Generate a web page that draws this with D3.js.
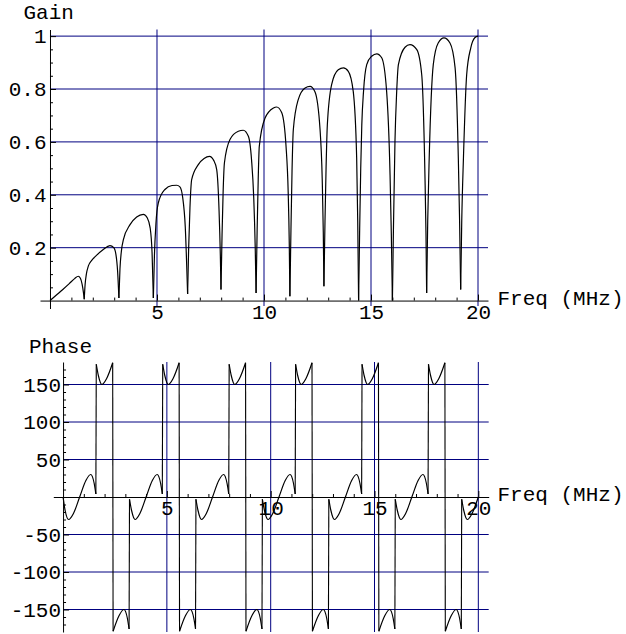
<!DOCTYPE html>
<html>
<head>
<meta charset="utf-8">
<script src="https://cdn.jsdelivr.net/npm/d3@7"></script>
<style>
    body { margin: 0; background: #fff; }
    svg text { font-family: "Liberation Mono", "Courier New", monospace; font-size: 21px; fill: #000; }
</style>
</head>
<body>
<svg id="chart" width="626" height="634"></svg>
<script>
// values: [freq MHz, gain]
const GAIN_POINTS = [
    [0, 0], [0.3, 0.021], [0.6, 0.042], [0.9, 0.064], [1.15, 0.083], [1.32, 0.092], [1.42, 0.084], [1.5, 0.062], [1.56, 0.032], [1.6, 0.005],
    [1.64, 0.06], [1.7, 0.1], [1.79, 0.13], [1.95, 0.152], [2.1, 0.165], [2.49, 0.193], [2.8, 0.208], [2.98, 0.2], [3.08, 0.175], [3.16, 0.11], [3.22, 0.01],
    [3.27, 0.12], [3.34, 0.19], [3.43, 0.23], [3.74, 0.287], [4.05, 0.316], [4.36, 0.326], [4.55, 0.312], [4.68, 0.275], [4.77, 0.18], [4.83, 0.01],
    [4.88, 0.17], [4.95, 0.29], [5.06, 0.369], [5.37, 0.42], [5.7, 0.435], [5.92, 0.436], [6.07, 0.43], [6.2, 0.39], [6.32, 0.28], [6.43, 0.025],
    [6.48, 0.2], [6.54, 0.35], [6.62, 0.457], [6.93, 0.514], [7.2, 0.537], [7.45, 0.545], [7.65, 0.53], [7.79, 0.495], [7.9, 0.34], [7.96, 0.17], [7.99, 0.042],
    [8.04, 0.25], [8.09, 0.41], [8.15, 0.52], [8.41, 0.609], [8.8, 0.64], [9.03, 0.644], [9.27, 0.621], [9.42, 0.53], [9.52, 0.39], [9.59, 0.2], [9.63, 0.029],
    [9.68, 0.27], [9.73, 0.46], [9.78, 0.583], [10.05, 0.69], [10.44, 0.728], [10.59, 0.732], [10.83, 0.71], [11.03, 0.583], [11.13, 0.41], [11.18, 0.22], [11.21, 0.016],
    [11.26, 0.27], [11.31, 0.49], [11.37, 0.646], [11.6, 0.76], [11.92, 0.804], [12.15, 0.81], [12.38, 0.79], [12.62, 0.646], [12.72, 0.46], [12.77, 0.26], [12.8, 0.054],
    [12.85, 0.3], [12.9, 0.5], [12.96, 0.665], [13.16, 0.817], [13.47, 0.873], [13.71, 0.88], [13.94, 0.867], [14.17, 0.791], [14.33, 0.54], [14.38, 0.3], [14.42, 0],
    [14.47, 0.27], [14.52, 0.5], [14.57, 0.665], [14.65, 0.79], [14.8, 0.892], [15.03, 0.924], [15.27, 0.933], [15.5, 0.918], [15.73, 0.791], [15.89, 0.476], [15.95, 0.25], [16.0, 0],
    [16.05, 0.28], [16.12, 0.602], [16.2, 0.79], [16.28, 0.892], [16.59, 0.958], [16.82, 0.968], [17.14, 0.949], [17.37, 0.854], [17.52, 0.476], [17.57, 0.25], [17.6, 0.029],
    [17.65, 0.3], [17.72, 0.54], [17.91, 0.892], [18.14, 0.974], [18.41, 0.993], [18.69, 0.974], [18.93, 0.88], [19.08, 0.54], [19.14, 0.3], [19.19, 0.042],
    [19.24, 0.3], [19.32, 0.54], [19.47, 0.854], [19.66, 0.955], [19.86, 0.995], [20, 1.0]
];

// [freq MHz, phase deg]
const PHASE_POINTS = [
    [0, 0], [0.1, -18], [0.27, -30], [0.5, -22], [0.8, 0], [1.1, 22], [1.33, 30], [1.5, 18], [1.58, 4],
    [1.6, 177], [1.7, 162], [1.87, 150], [2.1, 158], [2.39, 179], [2.41, -179], [2.7, -158], [2.93, -150], [3.1, -162], [3.18, -176],
    [3.2, -3], [3.3, -18], [3.47, -30], [3.7, -22], [4.0, 0], [4.3, 22], [4.53, 30], [4.7, 18], [4.78, 4],
    [4.8, 177], [4.9, 162], [5.07, 150], [5.3, 158], [5.59, 179], [5.61, -179], [5.9, -158], [6.13, -150], [6.3, -162], [6.38, -176],
    [6.4, -3], [6.5, -18], [6.67, -30], [6.9, -22], [7.2, 0], [7.5, 22], [7.73, 30], [7.9, 18], [7.98, 4],
    [8.0, 177], [8.1, 162], [8.27, 150], [8.5, 158], [8.79, 179], [8.81, -179], [9.1, -158], [9.33, -150], [9.5, -162], [9.58, -176],
    [9.6, -3], [9.7, -18], [9.87, -30], [10.1, -22], [10.4, 0], [10.7, 22], [10.93, 30], [11.1, 18], [11.18, 4],
    [11.2, 177], [11.3, 162], [11.47, 150], [11.7, 158], [11.99, 179], [12.01, -179], [12.3, -158], [12.53, -150], [12.7, -162], [12.78, -176],
    [12.8, -3], [12.9, -18], [13.07, -30], [13.3, -22], [13.6, 0], [13.9, 22], [14.13, 30], [14.3, 18], [14.38, 4],
    [14.4, 177], [14.5, 162], [14.67, 150], [14.9, 158], [15.19, 179], [15.21, -179], [15.5, -158], [15.73, -150], [15.9, -162], [15.98, -176],
    [16.0, -3], [16.1, -18], [16.27, -30], [16.5, -22], [16.8, 0], [17.1, 22], [17.33, 30], [17.5, 18], [17.58, 4],
    [17.6, 177], [17.7, 162], [17.87, 150], [18.1, 158], [18.39, 179], [18.41, -179], [18.7, -158], [18.93, -150], [19.1, -162], [19.18, -176],
    [19.2, -3], [19.3, -18], [19.47, -30], [19.7, -22], [20.0, 0]
];

const FREQ_TICKS = [5, 10, 15, 20];
const GAIN_TICKS = [0.2, 0.4, 0.6, 0.8, 1];
const PHASE_TICKS = [-150, -100, -50, 50, 100, 150];

const GRID_COLOR = "#000080";

const svg = d3.select("#chart");

// split gain curve at the notches so each lobe keeps a sharp cusp
function splitAtNulls(pts) {
    let lobes = [], cur = [pts[0]];
    for (let i = 1; i < pts.length; i++) {
        cur.push(pts[i]);
        if (i < pts.length - 1 && pts[i][1] < pts[i-1][1] && pts[i][1] < pts[i+1][1]) {
            lobes.push(cur);
            cur = [pts[i]];
        }
    }
    lobes.push(cur);
    return lobes;
}

// split phase at wrap-arounds
function splitAtJumps(pts) {
    let pieces = [], cur = [pts[0]];
    for (let i = 1; i < pts.length; i++) {
        if (Math.abs(pts[i][1] - pts[i-1][1]) > 90) {
            pieces.push(cur);
            cur = [];
        }
        cur.push(pts[i]);
    }
    pieces.push(cur);
    return pieces;
}

function drawPanel(cfg) {
    let g = svg.append("g");
    let x = d3.scaleLinear().domain(cfg.xDomain).range(cfg.xRange);
    let y = d3.scaleLinear().domain(cfg.yDomain).range(cfg.yRange);
    let id = cfg.id;

    g.append("clipPath").attr("id", "clip-" + id)
        .append("rect")
        .attr("x", cfg.xRange[0]).attr("y", cfg.yRange[1])
        .attr("width", cfg.xRange[1] - cfg.xRange[0])
        .attr("height", cfg.yRange[0] - cfg.yRange[1]);

    // grid lines
    g.append("g").selectAll("line")
        .data(cfg.yTicks)
        .join("line")
        .attr("x1", x(0)).attr("x2", cfg.xRange[1])
        .attr("y1", d => y(d)).attr("y2", d => y(d))
        .attr("stroke", GRID_COLOR).attr("stroke-width", 1);

    g.append("g").selectAll("line")
        .data(FREQ_TICKS)
        .join("line")
        .attr("x1", d => x(d)).attr("x2", d => x(d))
        .attr("y1", cfg.yRange[1]).attr("y2", cfg.gridBottom)
        .attr("stroke", GRID_COLOR).attr("stroke-width", 1);

    // axes, ticks pointing inward like Mathematica
    let xAxis = d3.axisBottom(x)
        .tickValues(FREQ_TICKS)
        .tickSizeInner(-6).tickSizeOuter(0)
        .tickPadding(3.2)
        .tickFormat(d => String(d));
    let xMinor = d3.axisBottom(x)
        .tickValues(d3.range(1, 20).filter(d => d % 5 !== 0))
        .tickSizeInner(-3).tickSizeOuter(0)
        .tickFormat("");
    let yAxis = d3.axisLeft(y)
        .tickValues(cfg.yTicks)
        .tickSizeInner(-6).tickSizeOuter(0)
        .tickPadding(cfg.yPad)
        .tickFormat(cfg.yFormat);
    let yMinor = d3.axisLeft(y)
        .tickValues(cfg.yMinor)
        .tickSizeInner(-3).tickSizeOuter(0)
        .tickFormat("");

    let ax = g.append("g").attr("transform", `translate(0,${y(0)})`);
    ax.call(xAxis);
    ax.append("g").call(xMinor).select(".domain").remove();

    let ay = g.append("g").attr("transform", `translate(${x(0)},0)`);
    ay.call(yAxis);
    ay.append("g").call(yMinor).select(".domain").remove();

    g.selectAll(".tick text").attr("font-family", null).attr("font-size", null);
    g.selectAll("g").attr("font-family", null).attr("font-size", null);

    // curve
    let line = d3.line()
        .x(d => x(d[0]))
        .y(d => y(d[1]))
        .curve(d3.curveMonotoneX);
    let plot = g.append("g").attr("clip-path", `url(#clip-${id})`);
    plot.selectAll("path.piece")
        .data(cfg.pieces)
        .join("path")
        .attr("class", "piece")
        .attr("d", line)
        .attr("fill", "none")
        .attr("stroke", "#000")
        .attr("stroke-width", 1.2);

    if (cfg.connectors) {
        plot.selectAll("line.jump")
            .data(cfg.connectors)
            .join("line")
            .attr("class", "jump")
            .attr("x1", d => x(d[0][0])).attr("y1", d => y(d[0][1]))
            .attr("x2", d => x(d[1][0])).attr("y2", d => y(d[1][1]))
            .attr("stroke", "#000")
            .attr("stroke-width", 1.1);
    }

    // titles
    g.append("text").attr("x", cfg.titleX).attr("y", cfg.titleY).text(cfg.title);
    g.append("text").attr("x", 497.5).attr("y", y(0) + 4).text("Freq (MHz)");
}

let gainLobes = splitAtNulls(GAIN_POINTS);
drawPanel({
    id: "gain",
    xDomain: [-0.467, 20.467], xRange: [40, 488],
    yDomain: [-0.03, 1.025], yRange: [308.5, 29.5],
    gridBottom: 306,
    yTicks: GAIN_TICKS,
    yMinor: d3.range(1, 20).map(i => i * 0.05).filter((d, i) => (i + 1) % 4 !== 0),
    yFormat: d3.format("~g"),
    yPad: 3.5,
    pieces: gainLobes,
    title: "Gain", titleX: 23.5, titleY: 19
});

let phasePieces = splitAtJumps(PHASE_POINTS);
let phaseJumps = phasePieces.slice(1).map((p, i) => [phasePieces[i][phasePieces[i].length - 1], p[0]]);
drawPanel({
    id: "phase",
    xDomain: [-0.47, 20.5], xRange: [53.3, 488.7],
    yDomain: [-180, 180], yRange: [632, 362],
    gridBottom: 632,
    yTicks: PHASE_TICKS,
    yMinor: d3.range(-170, 180, 10).filter(d => d % 50 !== 0),
    yFormat: d => String(d),
    yPad: 2,
    pieces: phasePieces,
    connectors: phaseJumps,
    title: "Phase", titleX: 29, titleY: 352.5
});
</script>
</body>
</html>
